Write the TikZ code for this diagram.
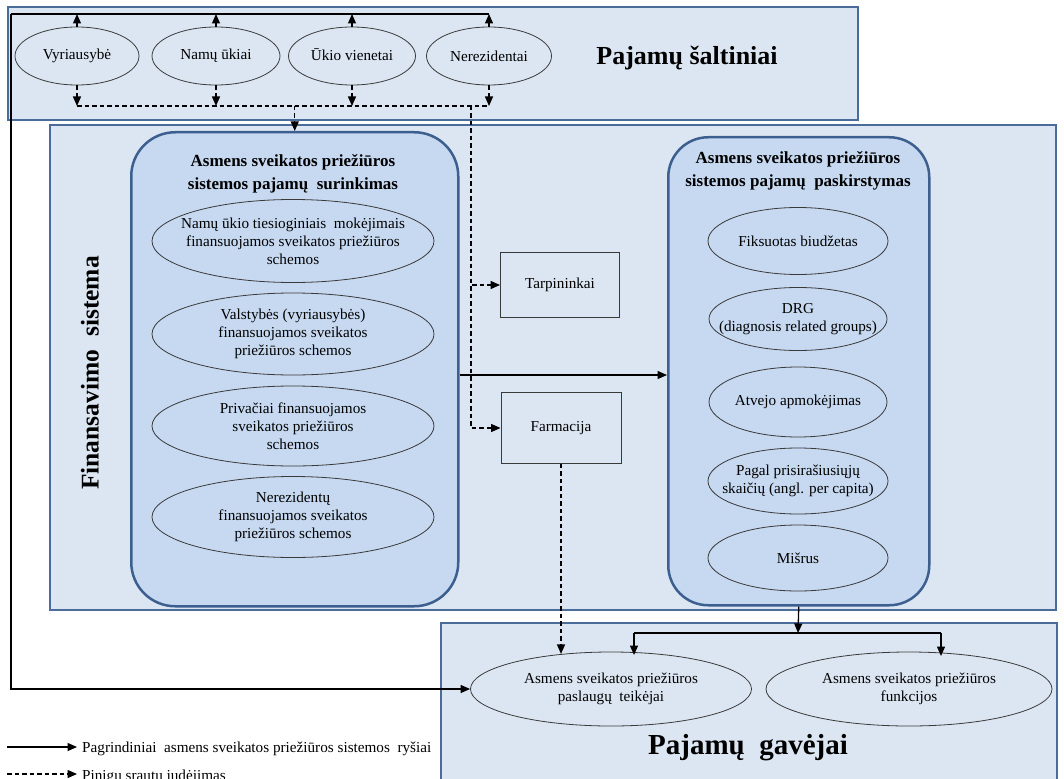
\documentclass[tikz,border=0pt]{standalone}
\usepackage{fontspec}
\setmainfont{Liberation Serif}
\usetikzlibrary{shapes.geometric,arrows.meta}

\definecolor{panelfill}{HTML}{DCE6F2}
\definecolor{panelline}{HTML}{4A6C9B}
\definecolor{groupfill}{HTML}{C6D9F1}
\definecolor{groupline}{HTML}{3C5F8F}
\definecolor{ovalline}{HTML}{3A3A3A}

\newcommand\txtsmall{\fontsize{15.2}{18}\selectfont}
\newcommand\txttitle{\fontsize{17}{23}\selectfont\bfseries}
\newcommand\txtbig{\fontsize{26}{30}\selectfont\bfseries}

\begin{document}
\begin{tikzpicture}[x=1pt,y=-1pt,
  panel/.style={draw=panelline, line width=2pt, fill=panelfill, inner sep=0pt, anchor=north west},
  group/.style={draw=groupline, line width=2.5pt, fill=groupfill, inner sep=0pt, anchor=north west, rounded corners=44pt},
  oval/.style={ellipse, draw=ovalline, line width=0.8pt, inner sep=0pt},
  ovaltext/.style={align=center, font=\txtsmall, inner sep=0pt},
  box/.style={draw=ovalline, line width=0.9pt, inner sep=0pt, font=\txtsmall},
  title/.style={align=center, font=\txttitle},
  big/.style={font=\txtbig},
  tip/.style={-{Triangle[length=9.5pt,width=8pt]}},
  link/.style={line width=1.3pt, tip},
  plain/.style={line width=1.3pt},
  flow/.style={line width=1.3pt, dash pattern=on 4.5pt off 3pt},
  flowarrow/.style={flow, tip}
]
\useasboundingbox (0,0) rectangle (1064,778);
\clip (0,0) rectangle (1064,778);
\fill[white] (0,0) rectangle (1064,778);

% ---------- panels ----------
\node[panel, minimum width=850pt, minimum height=113pt] (src) at (7,6) {};
\node[panel, minimum width=1006pt, minimum height=485pt] (fin) at (49,124) {};
\node[panel, minimum width=616pt, minimum height=190pt] (rec) at (440,622) {};

\node[big] (srcT) at (687,58) {Pajamų\ šaltiniai};
\node[big, rotate=90, font=\fontsize{25.5}{30}\selectfont\bfseries] (finT) at (90,373) {Finansavimo\ \ sistema};
\node[big, font=\fontsize{29}{33}\selectfont\bfseries] (recT) at (748,748) {Pajamų\ \ gavėjai};

% ---------- revenue sources ----------
\node[oval, minimum width=124pt, minimum height=58pt, label={[ovaltext]center:Vyriausybė}] (gov) at (77,56) {};
\node[oval, minimum width=128pt, minimum height=58pt, label={[ovaltext]center:Namų ūkiai}] (hh) at (216,56) {};
\node[oval, minimum width=127pt, minimum height=58pt, label={[ovaltext, yshift=1.5pt]center:Ūkio vienetai}] (ent) at (352,56) {};
\node[oval, minimum width=125pt, minimum height=58pt, label={[ovaltext]center:Nerezidentai}] (nr) at (489,56) {};

% ---------- revenue collection ----------
\node[group, minimum width=327pt, minimum height=474pt] (collect) at (130,131) {};
\node[title] (collectT) at (293,174) {Asmens\ sveikatos priežiūros\\sistemos pajamų\ \ surinkimas};
\node[oval, minimum width=282pt, minimum height=83pt,
  label={[ovaltext]center:{Namų ūkio tiesioginiais\ \ mokėjimais\\finansuojamos sveikatos priežiūros\\schemos}}] (c1) at (293,241) {};
\node[oval, minimum width=282pt, minimum height=82pt,
  label={[ovaltext]center:{Valstybės (vyriausybės)\\finansuojamos sveikatos\\priežiūros schemos}}] (c2) at (293,334) {};
\node[oval, minimum width=282pt, minimum height=80pt,
  label={[ovaltext]center:{Privačiai finansuojamos\\sveikatos priežiūros\\schemos}}] (c3) at (293,426) {};
\node[oval, minimum width=282pt, minimum height=81pt,
  label={[ovaltext]center:{Nerezidentų\\finansuojamos sveikatos\\priežiūros schemos}}] (c4) at (293,517) {};

% ---------- intermediaries ----------
\node[box, minimum width=119pt, minimum height=65pt] (tarp) at (560,285) {Tarpininkai};
\node[box, minimum width=120pt, minimum height=71pt] (farm) at (561,428) {Farmacija};

% ---------- revenue allocation ----------
\node[group, rounded corners=40pt, minimum width=261pt, minimum height=468pt] (alloc) at (667,136) {};
\node[title] (allocT) at (798,171) {Asmens\ sveikatos priežiūros\\sistemos pajamų\ \ paskirstymas};
\node[oval, minimum width=180pt, minimum height=67pt,
  label={[ovaltext]center:Fiksuotas biudžetas}] (a1) at (798,241) {};
\node[oval, minimum width=178pt, minimum height=63pt,
  label={[ovaltext]center:{DRG\\(diagnosis related groups)}}] (a2) at (798,319) {};
\node[oval, minimum width=178pt, minimum height=70pt,
  label={[ovaltext]center:Atvejo apmokėjimas}] (a3) at (798,402) {};
\node[oval, minimum width=180pt, minimum height=66pt,
  label={[ovaltext]center:{Pagal prisirašiusiųjų\\skaičių (angl. per capita)}}] (a4) at (798,481) {};
\node[oval, minimum width=180pt, minimum height=66pt,
  label={[ovaltext]center:Mišrus}] (a5) at (798,558) {};

% ---------- recipients ----------
\node[oval, minimum width=281pt, minimum height=74pt,
  label={[ovaltext]center:{Asmens sveikatos priežiūros\\paslaugų\ \ teikėjai}}] (prov) at (611,689) {};
\node[oval, minimum width=286pt, minimum height=74pt,
  label={[ovaltext]center:{Asmens sveikatos priežiūros\\funkcijos}}] (func) at (909,689) {};

% ---------- junction points ----------
\coordinate (topL) at (11,14);
\coordinate (moneyL) at (77,106);
\coordinate (moneyR) at (471,106);
\coordinate (splitL) at (634,633);
\coordinate (splitR) at (941,633);
\coordinate (splitM) at (798,633);

% ---------- main relations ----------
\draw[plain] (topL) -- (topL -| nr.north);
\foreach \s in {gov,hh,ent,nr}
  \draw[link] (\s.north) -- (\s.north |- topL);
\draw[link] (topL) |- (prov.west);
\draw[link] (collect.east |- 0,375) -- (alloc.west |- 0,375);
\draw[link] (alloc.south) -- (splitM);
\draw[plain] (splitL) -- (splitR);
\draw[link] (splitL) -- ++(0,22);
\draw[link] (splitR) -- ++(0,23);

% ---------- money flows ----------
\foreach \s in {gov,hh,ent,nr}
  \draw[flowarrow] (\s.south) -- (\s.south |- moneyL);
\draw[flow] (moneyL) -- (moneyL -| nr.south);
\draw[flowarrow] (collect.north |- moneyL) -- (collect.north);
\draw[flowarrow] (moneyR) |- (tarp.west);
\draw[flowarrow] (moneyR) |- (farm.west);
\draw[flowarrow] (farm.south) -- ++(0,190);

% ---------- legend ----------
\coordinate (legA) at (7,747);
\coordinate (legB) at (7,774);
\draw[link] (legA) -- ++(70,0);
\draw[flowarrow] (legB) -- ++(70,0);
\node[anchor=base west, font=\txtsmall, inner sep=0pt] (legAT) at (82,752)
  {Pagrindiniai\ \ asmens sveikatos priežiūros sistemos\ \ ryšiai};
\node[anchor=base west, font=\txtsmall, inner sep=0pt] (legBT) at (82,780)
  {Pinigų srautų judėjimas};
\end{tikzpicture}
\end{document}
